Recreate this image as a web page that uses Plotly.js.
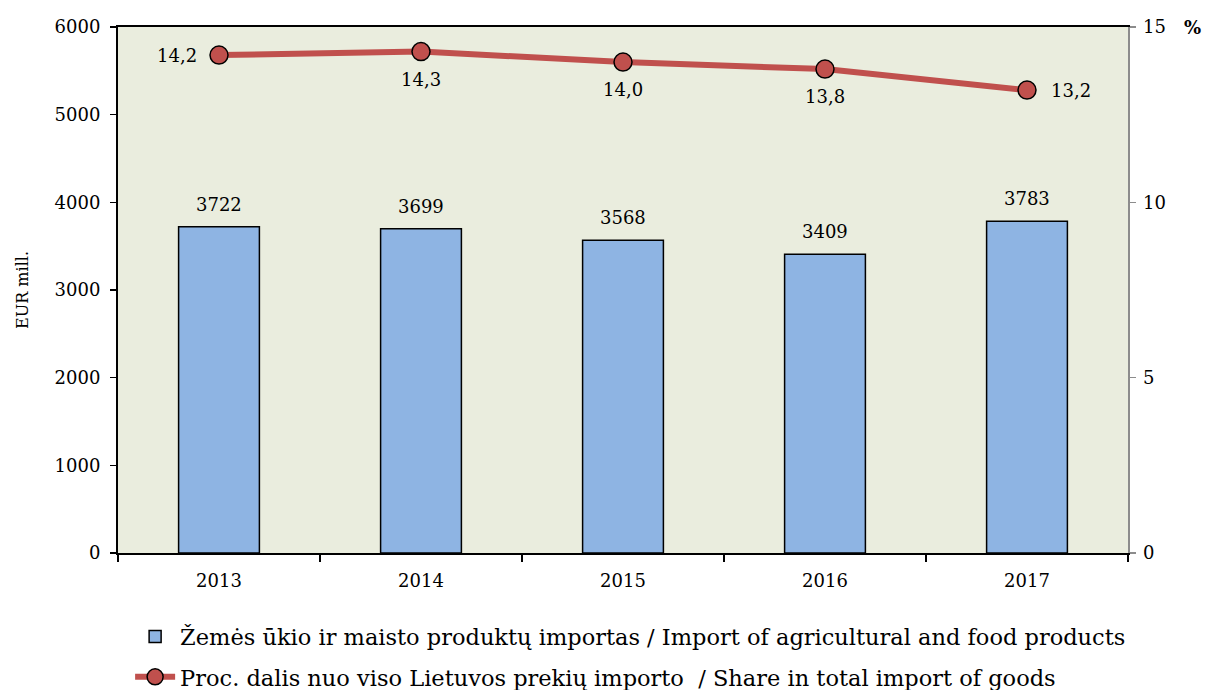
<!DOCTYPE html>
<html>
<head>
<meta charset="utf-8">
<script src="https://cdn.plot.ly/plotly-3.0.1.min.js"></script>
<style>html,body{margin:0;padding:0;background:#fff;}#chart{width:1205px;height:690px;}</style>
</head>
<body>
<div id="chart"></div>
<script>
const years = ['2013', '2014', '2015', '2016', '2017'];
const importValues = [3722, 3699, 3568, 3409, 3783];
const shareValues = [14.2, 14.3, 14.0, 13.8, 13.2];
const shareLabels = ['14,2', '14,3', '14,0', '13,8', '13,2'];
const barName = 'Žemės ūkio ir maisto produktų importas / Import of agricultural and food products';
const lineName = 'Proc. dalis nuo viso Lietuvos prekių importo  / Share in total import of goods';

const FONT = 'DejaVu Serif, Liberation Serif, serif';

const bars = {
  type: 'bar', x: years, y: importValues, name: barName, legendgroup: 'a',
  marker: {color: '#8EB4E3', line: {color: '#000', width: 1.5}},
  hoverinfo: 'skip'
};
const line = {
  type: 'scatter', mode: 'lines+markers', x: years, y: shareValues, yaxis: 'y2',
  name: lineName, legendgroup: 'b',
  line: {color: '#C0504D', width: 6},
  marker: {color: '#C0504D', size: 18, line: {color: '#000', width: 1.5}},
  cliponaxis: false
};

const annotations = years.map((yr, i) => ({
  x: i, y: importValues[i], xref: 'x', yref: 'y', text: String(importValues[i]),
  showarrow: false, yanchor: 'bottom', yshift: 10,
  font: {family: FONT, size: 18, color: '#000'}
}));
// label placement for the share line: left, below, below, below, right
const place = [
  {xanchor: 'right', yanchor: 'middle', xshift: -20, yshift: 0},
  {xanchor: 'center', yanchor: 'top', xshift: 0, yshift: -15},
  {xanchor: 'center', yanchor: 'top', xshift: 0, yshift: -15},
  {xanchor: 'center', yanchor: 'top', xshift: 0, yshift: -15},
  {xanchor: 'left', yanchor: 'middle', xshift: 22, yshift: 0}
];
years.forEach((yr, i) => {
  annotations.push(Object.assign({
    x: i, y: shareValues[i], xref: 'x', yref: 'y2', text: shareLabels[i], showarrow: false,
    font: {family: FONT, size: 18, color: '#000'}
  }, place[i]));
});
annotations.push({
  xref: 'paper', yref: 'paper', x: 1.053, y: 1.0, xanchor: 'left', yanchor: 'middle',
  text: '<b>%</b>', showarrow: false, font: {family: FONT, size: 18, color: '#000'}
});

const layout = {
  width: 1205, height: 690,
  margin: {l: 118, r: 77, t: 27, b: 137, autoexpand: false},
  paper_bgcolor: '#fff', plot_bgcolor: '#EAEDDE',
  font: {family: FONT, size: 18, color: '#000'},
  bargap: 0.6,
  showlegend: true,
  legend: {
    orientation: 'v', x: 0.012, xanchor: 'left', yref: 'container', y: 0.108, yanchor: 'top',
    font: {family: FONT, size: 22.5, color: '#000'}, traceorder: 'grouped',
    tracegroupgap: 8, itemwidth: 40, bgcolor: 'rgba(0,0,0,0)'
  },
  xaxis: {
    type: 'category', range: [-0.5, 4.5], autorange: false,
    showline: true, linecolor: '#000', linewidth: 2, mirror: true,
    ticks: 'outside', tickson: 'boundaries', ticklen: 7, tickcolor: '#000', tickwidth: 1.5,
    showgrid: false, tickfont: {family: FONT, size: 18}, tickangle: 0, automargin: false,
    ticklabelstandoff: 10
  },
  yaxis: {
    range: [0, 6000], dtick: 1000, showline: true, linecolor: '#000', linewidth: 2,
    ticks: 'outside', ticklen: 6, tickcolor: '#000', tickwidth: 1.5, showgrid: false,
    zeroline: false, tickfont: {family: FONT, size: 18}, automargin: false,
    ticklabelstandoff: 6,
    title: {text: 'EUR mill.', font: {family: FONT, size: 16}, standoff: 22}
  },
  yaxis2: {
    overlaying: 'y', side: 'right', range: [0, 15], dtick: 5, showline: true,
    linecolor: '#8C8C8C', linewidth: 1.5, ticks: 'outside', ticklen: 6, tickcolor: '#8C8C8C',
    tickwidth: 1.5, showgrid: false, zeroline: false, tickfont: {family: FONT, size: 18},
    automargin: false, ticklabelstandoff: 4
  },
  annotations: annotations
};

Plotly.newPlot('chart', [bars, line], layout, {displayModeBar: false, staticPlot: true});
</script>
</body>
</html>
